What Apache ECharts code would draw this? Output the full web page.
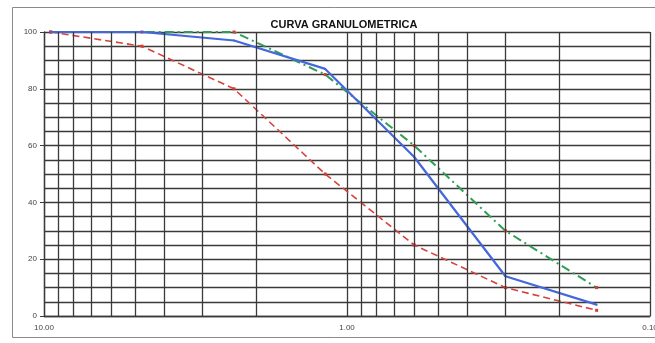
<!DOCTYPE html>
<html><head><meta charset="utf-8">
<script src="https://cdn.jsdelivr.net/npm/echarts@6/dist/echarts.min.js"></script>
<style>html,body{margin:0;padding:0;background:#fff}#c{width:655px;height:343px}</style>
</head><body><div id="c"></div>
<script>
const sieves = [9.5, 4.75, 2.36, 1.18, 0.6, 0.3, 0.15];
const lowerLimit = [100, 95, 80, 50, 25, 10, 2];
const upperLimit = [100, 100, 100, 85, 60, 30, 10];
const sample = [100, 100, 97, 87, 56, 14, 4];
const yTicks = [0, 20, 40, 60, 80, 100];
const xGridMinor = [9, 8, 7, 6, 5, 4, 3, 2, 0.9, 0.8, 0.7, 0.6, 0.5, 0.4, 0.3, 0.2];
const title = 'CURVA GRANULOMETRICA';

const pairs = (ys) => sieves.map((x, i) => [x, ys[i]]);
const chart = echarts.init(document.getElementById('c'), null, {renderer: 'canvas'});
const gridColor = '#3a3a3a';
const gw = 1.3;
chart.setOption({
  animation: false,
  backgroundColor: '#fff',
  graphic: [{type: 'rect', shape: {x: 12.5, y: 7.5, width: 660, height: 330}, style: {fill: 'none', stroke: '#8a8a8a', lineWidth: 1}, silent: true}],
  title: {text: title, left: 339, top: 14, textAlign: 'center',
    textStyle: {fontFamily: '"Liberation Sans Narrow", "Liberation Sans", Arial', fontWeight: 'bold', fontSize: 11, color: '#111'}},
  grid: {left: 44, right: 5, top: 32, bottom: 27, containLabel: false, outerBoundsMode: 'none'},
  xAxis: {type: 'log', logBase: 10, min: 0.1, max: 10, inverse: true,
    axisLine: {show: true, lineStyle: {color: gridColor, width: gw}}, axisTick: {show: false},
    splitLine: {show: true, lineStyle: {color: gridColor, width: gw}},
    axisLabel: {formatter: v => Number(v).toFixed(2), fontFamily: 'Liberation Sans, Arial', fontSize: 8, color: '#444', margin: 8}},
  yAxis: [
    {type: 'value', min: 0, max: 100, interval: 5,
      axisLine: {show: true, lineStyle: {color: gridColor, width: gw}}, axisTick: {show: false},
      splitLine: {show: true, lineStyle: {color: gridColor, width: gw}}, axisLabel: {show: false}},
    {type: 'value', min: 0, max: 100, interval: 20, position: 'left',
      axisLine: {show: false}, splitLine: {show: false},
      axisTick: {show: true, length: 4, lineStyle: {color: gridColor}},
      axisLabel: {formatter: v => yTicks.includes(v) ? String(v) : '', fontFamily: 'Liberation Sans, Arial', fontSize: 8, color: '#444', margin: 7}}
  ],
  series: [
    {type: 'line', name: 'grid', data: [], silent: true,
      markLine: {silent: true, symbol: 'none', label: {show: false},
        lineStyle: {color: gridColor, width: gw, type: 'solid'},
        data: xGridMinor.map(v => ({xAxis: v}))}},
    {type: 'line', name: 'upper', data: pairs(upperLimit), symbol: 'rect', symbolSize: 3,
      itemStyle: {color: '#d63a34'}, lineStyle: {color: '#2e9e55', width: 2, type: [9, 4, 2, 4]}, z: 3},
    {type: 'line', name: 'lower', data: pairs(lowerLimit), symbol: 'rect', symbolSize: 3,
      itemStyle: {color: '#d63a34'}, lineStyle: {color: '#d8423c', width: 1.6, type: [7, 4]}, z: 3},
    {type: 'line', name: 'sample', data: pairs(sample), symbol: 'circle', symbolSize: 2,
      itemStyle: {color: '#3f63d8'}, lineStyle: {color: '#4468dc', width: 2.2}, z: 4}
  ]
});
</script></body></html>
